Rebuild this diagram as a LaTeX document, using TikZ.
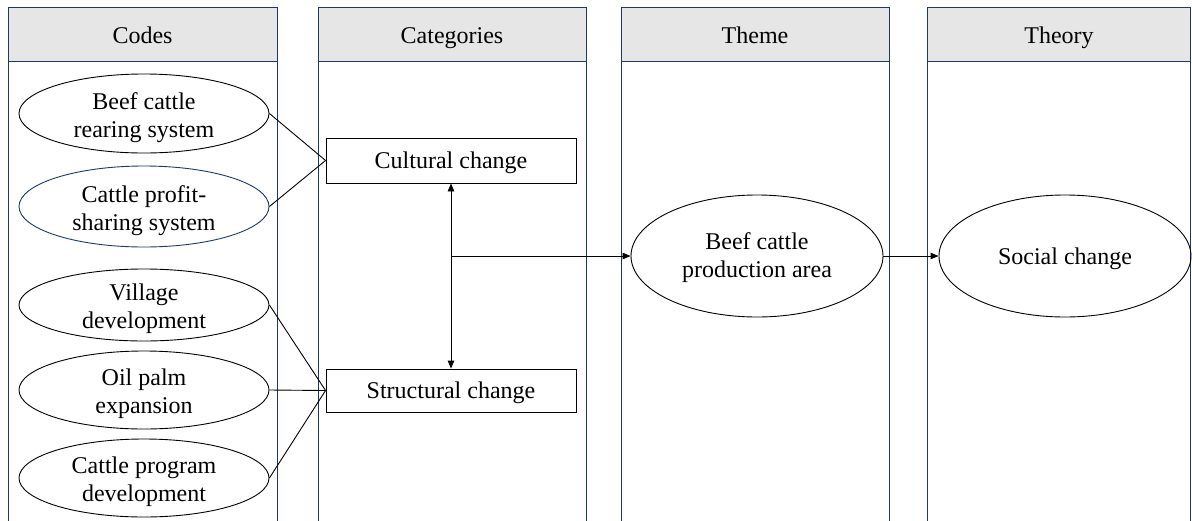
\documentclass[tikz,border=0pt]{standalone}
\usepackage{fontspec}
\setmainfont{Liberation Serif}
\usetikzlibrary{shapes.geometric,arrows.meta}
\definecolor{navy}{HTML}{1F3864}
\definecolor{hdrgray}{HTML}{E7E6E6}
\tikzset{
  colbox/.style={draw=navy, line width=1pt},
  hdrbox/.style={draw=navy, fill=hdrgray, line width=1pt},
  hdrtext/.style={font=\fontsize{24}{28}\selectfont, text height=19pt, text depth=3pt, inner sep=0pt},
  codeell/.style={ellipse, draw=black, line width=0.9pt, inner sep=0pt,
    minimum width=250pt},
  ctext/.style={align=center, inner sep=0pt, font=\fontsize{24}{28}\selectfont},
  catbox/.style={rectangle, draw=black, line width=0.9pt, inner sep=0pt, align=center,
    minimum width=250pt, text height=19pt, text depth=3pt, font=\fontsize{24}{28}\selectfont},
  bigell/.style={ellipse, draw=black, line width=0.9pt, inner sep=0pt,
    minimum width=252pt, minimum height=122pt},
  conn/.style={draw=black, line width=0.9pt},
  arr/.style={conn, -{Triangle[length=8pt,width=6.5pt]}},
  darr/.style={conn, {Triangle[length=8pt,width=6.5pt]}-{Triangle[length=8pt,width=6.5pt]}}
}
\begin{document}
\begin{tikzpicture}[x=1pt,y=-1pt]
\useasboundingbox (0,0) rectangle (1192,520);
\clip (0,0) rectangle (1192,520);
% columns
\draw[colbox] (8,7) rectangle (277,530);
\draw[hdrbox] (8,7) rectangle (277,61);
\node[hdrtext] (hcodes) at (142.5,35) {Codes};
\draw[colbox] (318,7) rectangle (586,530);
\draw[hdrbox] (318,7) rectangle (586,61);
\node[hdrtext] (hcat) at (452,35) {Categories};
\draw[colbox] (621,7) rectangle (889,530);
\draw[hdrbox] (621,7) rectangle (889,61);
\node[hdrtext] (htheme) at (755,35) {Theme};
\draw[colbox] (927,7) rectangle (1190.8,530);
\draw[hdrbox] (927,7) rectangle (1190.8,61);
\node[hdrtext] (htheory) at (1059,35) {Theory};
% codes
\node[codeell, minimum height=79pt] (c1) at (144,113.5) {};
\node[ctext] (c1t) at ([yshift=-4pt]c1.center) {Beef cattle\\rearing system};
\node[codeell, draw=navy, minimum height=81pt] (c2) at (144,206.5) {};
\node[ctext] (c2t) at ([yshift=-4pt]c2.center) {Cattle profit-\\sharing system};
\node[codeell, minimum height=72pt] (c3) at (144,305) {};
\node[ctext] (c3t) at ([yshift=-4pt]c3.center) {Village\\development};
\node[codeell, minimum height=78pt] (c4) at (144,390) {};
\node[ctext] (c4t) at ([yshift=-4pt]c4.center) {Oil palm\\expansion};
\node[codeell, minimum height=78pt] (c5) at (144,478) {};
\node[ctext] (c5t) at ([yshift=-4pt]c5.center) {Cattle program\\development};
% categories
\node[catbox, minimum height=45pt] (cult) at (451,160.5) {Cultural change};
\node[catbox, minimum height=43pt] (struc) at (451,390.5) {Structural change};
% theme and theory
\node[bigell] (theme) at (757,256) {};
\node[ctext] (themet) at ([yshift=-2pt]theme.center) {Beef cattle\\production area};
\node[bigell] (theory) at (1065,256) {};
\node[ctext] (theoryt) at ([yshift=-3pt]theory.center) {Social change};
% connectors
\draw[conn] (c1.east) -- (cult.west);
\draw[conn] (c2.east) -- (cult.west);
\draw[conn] (c3.east) -- (struc.west);
\draw[conn] (c4.east) -- (struc.west);
\draw[conn] (c5.east) -- (struc.west);
\draw[darr] (cult.south) -- (struc.north);
\coordinate (mid) at (451,256);
\draw[arr] (mid) -- (theme.west);
\draw[arr] (theme.east) -- (theory.west);
\end{tikzpicture}
\end{document}
